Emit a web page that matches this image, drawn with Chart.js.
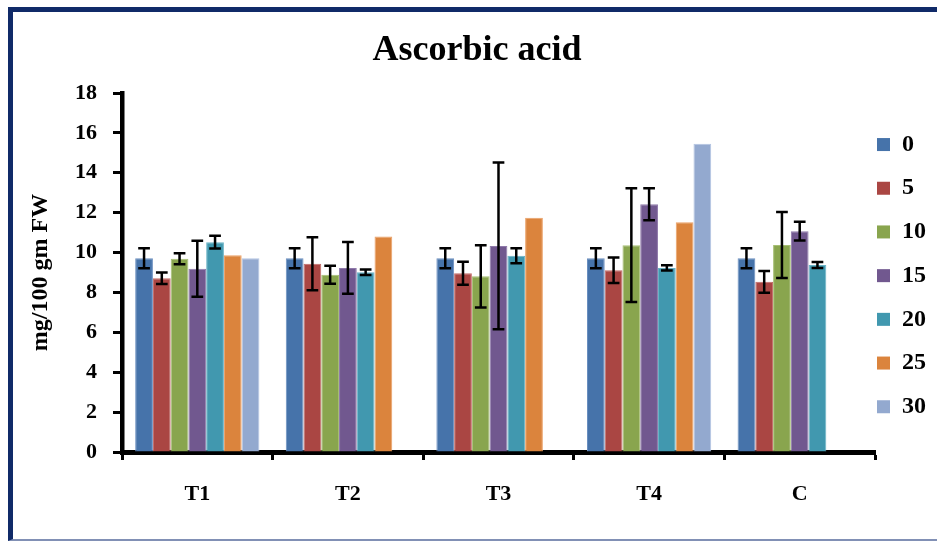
<!DOCTYPE html>
<html>
<head>
<meta charset="utf-8">
<title>Ascorbic acid</title>
<script src="https://cdn.jsdelivr.net/npm/chart.js@4.4.1/dist/chart.umd.min.js"></script>
<style>
  html, body { margin: 0; padding: 0; background: #fff; overflow: hidden; }
  #wrap { position: relative; width: 937px; height: 542px; }
  #frame {
    position: absolute; left: 8px; top: 7px; width: 1000px; height: 534px;
    box-sizing: border-box;
    border-top: 5px solid #102a68;
    border-left: 5px solid #102a68;
    border-bottom: 2px solid #8190b5;
  }
  canvas { position: absolute; left: 0; top: 0; }
</style>
</head>
<body>
<div id="wrap">
  <div id="frame"></div>
  <canvas id="chart" width="937" height="542"></canvas>
</div>
<script>
// Treatments along the x axis
const categories = ['T1', 'T2', 'T3', 'T4', 'C'];

// Series (legend entries)
const seriesLabels = ['0', '5', '10', '15', '20', '25', '30'];

// Ascorbic acid, mg/100 gm FW, per series
const values0  = [9.71, 9.71, 9.71, 9.71, 9.71];
const values5  = [8.71, 9.44, 8.96, 9.11, 8.53];
const values10 = [9.69, 8.89, 8.81, 10.37, 10.38];
const values15 = [9.19, 9.23, 10.33, 12.42, 11.07];
const values20 = [10.52, 9.01, 9.84, 9.23, 9.38];
const values25 = [9.86, 10.80, 11.74, 11.52, null];
const values30 = [9.71, null, null, 15.45, null];

// Error (±) per series; no error bars for 25 and 30
const errors0  = [0.50, 0.50, 0.50, 0.50, 0.50];
const errors5  = [0.29, 1.33, 0.58, 0.64, 0.54];
const errors10 = [0.28, 0.45, 1.56, 2.85, 1.65];
const errors15 = [1.40, 1.30, 4.18, 0.80, 0.47];
const errors20 = [0.32, 0.14, 0.38, 0.13, 0.15];

// Y axis ticks
const yTicks = [0, 2, 4, 6, 8, 10, 12, 14, 16, 18];

const seriesValues = [values0, values5, values10, values15, values20, values25, values30];
const seriesErrors = [errors0, errors5, errors10, errors15, errors20, null, null];
const seriesColors = ['#4673aa', '#aa4643', '#89a54e', '#71588f', '#4198af', '#db843d', '#93a9cf'];
const seriesEdges  = ['#6b8fc0', '#c26a67', '#a6bf73', '#8f79aa', '#6ab3c6', '#eba066', '#b3c4e2'];

const serif = "'Liberation Serif', 'Times New Roman', serif";
const boldSerif = (size, extra) => Object.assign({ family: serif, size: size, weight: 'bold' }, extra || {});

// Vertical error bars with caps, positioned from each bar and the y scale
const errorBars = {
  id: 'errorBars',
  afterDatasetsDraw(chart) {
    const ctx = chart.ctx;
    const yScale = chart.scales.y;
    ctx.save();
    ctx.strokeStyle = '#000';
    ctx.lineWidth = 2.5;
    chart.data.datasets.forEach((ds, di) => {
      if (!ds.errors) return;
      const meta = chart.getDatasetMeta(di);
      if (meta.hidden) return;
      meta.data.forEach((bar, i) => {
        const v = ds.data[i];
        const e = ds.errors[i];
        if (v == null || e == null) return;
        const yHi = yScale.getPixelForValue(v + e);
        const yLo = yScale.getPixelForValue(v - e);
        const half = bar.width * 0.33;
        ctx.beginPath();
        ctx.moveTo(bar.x, yHi); ctx.lineTo(bar.x, yLo);
        ctx.moveTo(bar.x - half, yHi); ctx.lineTo(bar.x + half, yHi);
        ctx.moveTo(bar.x - half, yLo); ctx.lineTo(bar.x + half, yLo);
        ctx.stroke();
      });
    });
    ctx.restore();
  }
};

const datasets = seriesLabels.map((label, i) => ({
  label: label,
  data: seriesValues[i],
  errors: seriesErrors[i],
  backgroundColor: seriesColors[i],
  borderColor: seriesEdges[i],
  borderWidth: 1,
  categoryPercentage: 0.825,
  barPercentage: 1.0
}));

new Chart(document.getElementById('chart'), {
  type: 'bar',
  data: { labels: categories, datasets: datasets },
  plugins: [errorBars],
  options: {
    responsive: false,
    maintainAspectRatio: false,
    devicePixelRatio: 1,
    animation: false,
    layout: { padding: { left: 18, right: 1, top: 0, bottom: 0 } },
    plugins: {
      title: {
        display: true,
        text: 'Ascorbic acid',
        color: '#000',
        font: boldSerif(36),
        padding: { top: 29, bottom: 20.8 }
      },
      legend: {
        position: 'right',
        fullSize: false,
        align: 'center',
        title: { display: true, text: '', padding: 0, font: { size: 10, lineHeight: '24px' } },
        labels: {
          boxWidth: 13,
          boxHeight: 13,
          padding: 2,
          color: '#000',
          font: boldSerif(24, { lineHeight: '41.7px' }),
          generateLabels(chart) {
            return Chart.defaults.plugins.legend.labels.generateLabels(chart)
              .map(item => Object.assign({}, item, { text: [item.text], lineWidth: 0 }));
          }
        }
      },
      tooltip: { enabled: false }
    },
    scales: {
      x: {
        z: 1,
        grid: {
          display: true, drawOnChartArea: false, drawTicks: true,
          tickLength: 8, tickWidth: 3, tickColor: '#000', offset: true
        },
        border: { display: true, color: '#000', width: 5 },
        ticks: { color: '#000', font: boldSerif(22), padding: 21 },
        afterFit(scale) { scale.height = 90; }
      },
      y: {
        min: yTicks[0],
        max: yTicks[yTicks.length - 1],
        afterBuildTicks(scale) { scale.ticks = yTicks.map(v => ({ value: v })); },
        ticks: { color: '#000', font: boldSerif(22), padding: 16 },
        grid: {
          display: true, drawOnChartArea: false, drawTicks: true,
          tickLength: 9, tickWidth: 3, tickColor: '#000'
        },
        border: { display: true, color: '#000', width: 4.5 },
        title: {
          display: true,
          text: 'mg/100 gm FW',
          color: '#000',
          font: boldSerif(24),
          padding: { top: 8, bottom: 0 }
        },
        afterFit(scale) { scale.width = 104; }
      }
    }
  }
});
</script>
</body>
</html>
